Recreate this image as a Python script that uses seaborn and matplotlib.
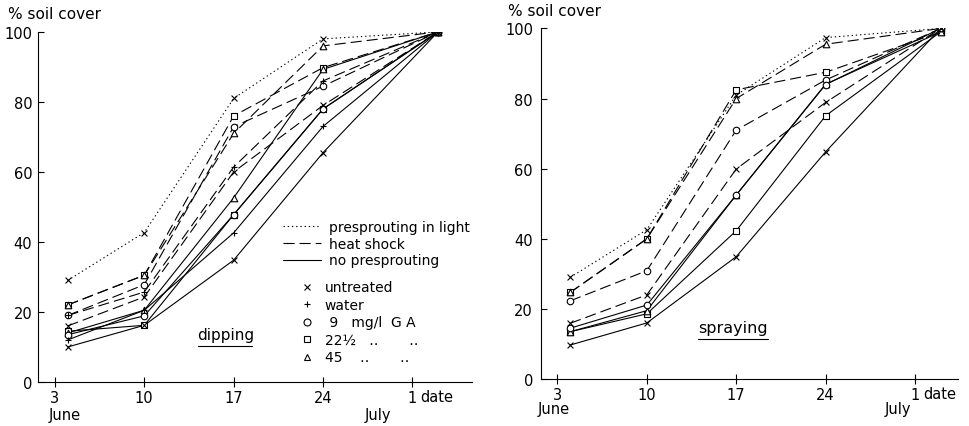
import pandas as pd
import matplotlib.pyplot as plt
import seaborn as sns
from matplotlib.lines import Line2D

# Sampling days, counted from 1 June (so 1 July = 31)
dates = [4, 10, 17, 24, 33]
tick_days = [3, 10, 17, 24, 31]
tick_labels = ['3', '10', '17', '24', '1']
y_ticks = [0, 20, 40, 60, 80, 100]

# Dipping (% soil cover)
dip_light_untreated = [29, 42.7, 81, 98, 100]
dip_heat_untreated = [16, 24.3, 60, 79, 100]
dip_heat_water = [19, 25.7, 61.4, 86, 100]
dip_heat_ga9 = [19, 27.8, 72.9, 84.5, 100]
dip_heat_ga22 = [22, 30.5, 76, 89.8, 100]
dip_heat_ga45 = [22, 30.5, 71, 96, 100]
dip_none_untreated = [10, 16.2, 34.8, 65.5, 100]
dip_none_water = [12, 20.5, 42.6, 73, 100]
dip_none_ga9 = [13.5, 18.9, 47.8, 78, 100]
dip_none_ga22 = [14.5, 16.2, 47.8, 78, 100]
dip_none_ga45 = [14, 20.5, 52.6, 89.3, 100]

# Spraying (% soil cover)
spr_light_untreated = [29, 42.6, 81, 97.4, 100]
spr_heat_untreated = [15.9, 24, 59.9, 78.9, 100]
spr_heat_ga9 = [22.3, 30.9, 71, 85.3, 100]
spr_heat_ga22 = [24.7, 40, 82.5, 87.5, 99]
spr_heat_ga45 = [24.7, 40, 80, 95.5, 100]
spr_none_untreated = [9.7, 16, 34.9, 64.8, 100]
spr_none_ga9 = [14.5, 21.1, 52.5, 84, 100]
spr_none_ga22 = [13.5, 18.6, 42.3, 75.1, 99]
spr_none_ga45 = [13.5, 19.5, 52.5, 84.1, 99]

group_labels = ['presprouting in light', 'heat shock', 'no presprouting']
treat_labels = ['untreated', 'water', ' 9   mg/l  G A', '22\u00bd   \u2025       \u2025', '45    \u2025       \u2025']

dipping = [
    ('light', 'untreated', dip_light_untreated),
    ('heat', 'untreated', dip_heat_untreated),
    ('heat', 'water', dip_heat_water),
    ('heat', 'ga9', dip_heat_ga9),
    ('heat', 'ga22', dip_heat_ga22),
    ('heat', 'ga45', dip_heat_ga45),
    ('none', 'untreated', dip_none_untreated),
    ('none', 'water', dip_none_water),
    ('none', 'ga9', dip_none_ga9),
    ('none', 'ga22', dip_none_ga22),
    ('none', 'ga45', dip_none_ga45),
]
spraying = [
    ('light', 'untreated', spr_light_untreated),
    ('heat', 'untreated', spr_heat_untreated),
    ('heat', 'ga9', spr_heat_ga9),
    ('heat', 'ga22', spr_heat_ga22),
    ('heat', 'ga45', spr_heat_ga45),
    ('none', 'untreated', spr_none_untreated),
    ('none', 'ga9', spr_none_ga9),
    ('none', 'ga22', spr_none_ga22),
    ('none', 'ga45', spr_none_ga45),
]

line_dashes = {'light': (1.2, 2.6), 'heat': (10, 4.5), 'none': ''}
markers = {'untreated': 'x', 'water': '+', 'ga9': 'o', 'ga22': 's', 'ga45': '^'}
LW = 0.8

sns.set_theme(style='ticks')
plt.rcParams['font.family'] = ['DejaVu Sans']
plt.rcParams['text.color'] = 'black'
plt.rcParams['xtick.color'] = 'black'
plt.rcParams['ytick.color'] = 'black'
plt.rcParams['axes.labelcolor'] = 'black'


def make_frame(series):
    rows = []
    for i, (group, treat, values) in enumerate(series):
        for d, v in zip(dates, values):
            rows.append({'day': d, 'cover': v, 'group': group, 'treatment': treat, 'line': i})
    return pd.DataFrame(rows)


def draw_panel(ax, df, xlim, ylab_pad):
    sns.lineplot(data=df, x='day', y='cover', style='group', units='line', estimator=None,
                 dashes=line_dashes, color='black', linewidth=LW, legend=False, ax=ax)
    for treat, sub in df.groupby('treatment'):
        m = markers[treat]
        if m in ('x', '+'):
            sns.scatterplot(data=sub, x='day', y='cover', marker=m, color='black',
                            s=18, linewidth=LW, legend=False, ax=ax, zorder=3)
        else:
            sns.scatterplot(data=sub, x='day', y='cover', marker=m, facecolor='white',
                            edgecolor='black', s=22, linewidth=LW, legend=False, ax=ax, zorder=3)
    ax.set_xlim(*xlim)
    ax.set_ylim(0, 100)
    ax.set_xticks(tick_days)
    ax.set_xticklabels(tick_labels)
    ax.set_yticks(y_ticks)
    ax.set_xlabel('')
    ax.set_ylabel('')
    ax.tick_params(axis='x', direction='inout', length=7, width=LW, pad=2, labelsize=10.5)
    ax.tick_params(axis='y', direction='in', length=4, width=LW, pad=ylab_pad, labelsize=10.5)
    for s in ['left', 'bottom']:
        ax.spines[s].set_linewidth(LW)
        ax.spines[s].set_color('black')
    sns.despine(ax=ax)


fig = plt.figure(figsize=(9.69, 4.27), dpi=100)
ax1 = fig.add_axes([0.0392, 0.103, 0.448, 0.82])
ax2 = fig.add_axes([0.558, 0.110, 0.4307, 0.821])

draw_panel(ax1, make_frame(dipping), (1.68, 35.67), 4)
draw_panel(ax2, make_frame(spraying), (1.69, 34.37), 5.5)

# Legend: line styles
line_handles = [Line2D([], [], color='black', lw=LW, dashes=d)
                for d in [line_dashes['light'], line_dashes['heat']]]
line_handles.append(Line2D([], [], color='black', lw=LW))
leg1 = ax1.legend(line_handles, group_labels, loc='upper left', bbox_to_anchor=(0.5645, 0.463),
                  frameon=False, fontsize=10, handlelength=2.7, handletextpad=0.6,
                  labelspacing=0.2, borderpad=0, borderaxespad=0)
ax1.add_artist(leg1)

# Legend: treatments
treat_handles = []
for t in ['untreated', 'water', 'ga9', 'ga22', 'ga45']:
    m = markers[t]
    if m in ('x', '+'):
        treat_handles.append(Line2D([], [], ls='none', marker=m, color='black', ms=4.5, mew=LW))
    else:
        treat_handles.append(Line2D([], [], ls='none', marker=m, mfc='white', mec='black', ms=5, mew=LW))
ax1.legend(treat_handles, treat_labels, loc='upper left', bbox_to_anchor=(0.6, 0.29),
           frameon=False, fontsize=10, handlelength=1.2, handletextpad=0.7,
           labelspacing=0.25, borderpad=0, borderaxespad=0)

# Panel labels, underlined
ax1.text(0.366, 0.137, 'dipping', transform=ax1.transAxes, fontsize=11, va='center', ha='left')
ax1.plot([0.368, 0.493], [0.103, 0.103], transform=ax1.transAxes, color='black', lw=LW)
ax2.text(0.3765, 0.148, 'spraying', transform=ax2.transAxes, fontsize=11.5, va='center', ha='left')
ax2.plot([0.378, 0.544], [0.114, 0.114], transform=ax2.transAxes, color='black', lw=LW)

# Axis titles and date labels
fig.text(8 / 969, 0.965, '% soil cover', fontsize=11, va='center', ha='left')
fig.text(508 / 969, 0.972, '% soil cover', fontsize=11, va='center', ha='left')
fig.text(64.5 / 969, 0.028, 'June', fontsize=10.5, va='center', ha='center')
fig.text(377.5 / 969, 0.028, 'July', fontsize=10.5, va='center', ha='center')
fig.text(420 / 969, 0.07, 'date', fontsize=10.5, va='center', ha='left')
fig.text(554 / 969, 0.040, 'June', fontsize=10.5, va='center', ha='center')
fig.text(897.5 / 969, 0.040, 'July', fontsize=10.5, va='center', ha='center')
fig.text(923 / 969, 0.077, 'date', fontsize=10.5, va='center', ha='left')

fig.savefig('out.png', dpi=100, facecolor='white')
